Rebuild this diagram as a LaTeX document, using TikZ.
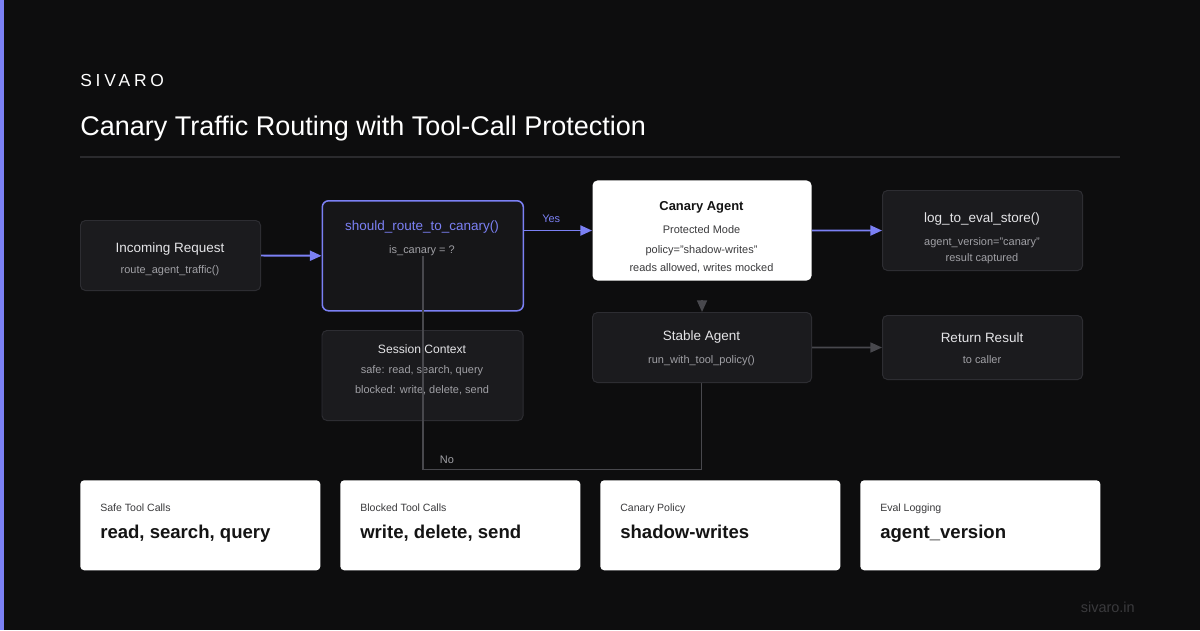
\documentclass[tikz,border=0pt]{standalone}
\usepackage{fontspec}
\setmainfont{Liberation Sans}
\usepackage{tikz}
\usetikzlibrary{arrows.meta,positioning}

\definecolor{bgc}{HTML}{0D0D0E}
\definecolor{accent}{HTML}{7B80F4}
\definecolor{boxfill}{HTML}{1B1B1E}
\definecolor{decfill}{HTML}{161618}
\definecolor{boxline}{HTML}{2D2D32}
\definecolor{ttlc}{HTML}{E4E4E7}
\definecolor{subc}{HTML}{A0A0A5}
\definecolor{linec}{HTML}{48484D}
\definecolor{rulec}{HTML}{2A2A2D}
\definecolor{inkc}{HTML}{141414}
\definecolor{inksub}{HTML}{3A3A3C}
\definecolor{sitec}{HTML}{3A3A3D}

\begin{document}
\begin{tikzpicture}[x=0.025cm,y=-0.025cm,
	>={Triangle[length=0.29cm,width=0.25cm]},
	txt/.style={inner sep=0pt,text height=0.72em,text depth=0pt},
	box/.style={draw=boxline,fill=boxfill,line width=0.7pt,rounded corners=3.5pt,anchor=north west,inner sep=0pt},
	ttl/.style={txt,text=ttlc,font=\fontsize{9.6}{11}\selectfont},
	sub/.style={txt,text=subc,font=\fontsize{7.8}{9}\selectfont},
	flow/.style={draw=accent,line width=1.4pt},
	grayline/.style={draw=linec,line width=1.1pt},
	card/.style={fill=white,rounded corners=2.8pt,anchor=north west,inner sep=0pt,minimum width=6cm,minimum height=2.25cm},
	cardlab/.style={txt,anchor=west,text=inksub,font=\fontsize{7.5}{9}\selectfont},
	cardval/.style={txt,anchor=west,text=inkc,font=\bfseries\fontsize{13.2}{15}\selectfont}]
	%	\draw [help lines] (0,0) grid (1200,630);
	\fill [bgc] (0,0) rectangle (1200,630);
	\fill [accent] (0,0) rectangle (4,630);
	\node [txt,anchor=west,text=white,font=\fontsize{12.4}{14}\selectfont\addfontfeatures{LetterSpace=22}] (brand) at (80,81) {SIVARO};
	\node [txt,anchor=west,text=white,font=\fontsize{19.2}{22}\selectfont] (title) at (80,130) {Canary Traffic Routing with Tool-Call Protection};
	\draw [rulec,line width=1.1pt] (80,157) -- (1120,157);
	
	\node [box,minimum width=4.5cm,minimum height=1.75cm] (req) at (80,220) {};
	\node [ttl] at (170,247) {Incoming Request};
	\node [sub] at (170,268) {route\_agent\_traffic()};
	
	\node [box,draw=accent,fill=decfill,line width=1.1pt,rounded corners=4.5pt,minimum width=5.025cm,minimum height=2.75cm] (dec) at (321.5,200) {};
	\node [ttl,text=accent] at (422,225.5) {should\_route\_to\_canary()};
	\node [sub] at (422,248) {is\_canary = ?};
	
	\node [box,minimum width=5.025cm,minimum height=2.25cm] (ctx) at (321.5,330) {};
	\node [ttl,font=\fontsize{8.6}{10}\selectfont] at (422,348) {Session Context};
	\node [sub] at (422,368.5) {safe: read, search, query};
	\node [sub] at (422,388) {blocked: write, delete, send};
	
	\coordinate (nobend) at (701.5,469.3);
	\draw [grayline] (dec.center) |- (nobend) -- (701.5,382);
	\node [sub] at (447,458) {No};
	
	\node [box,draw=none,fill=white,minimum width=5.475cm,minimum height=2.5cm] (canary) at (592,180) {};
	\node [ttl,text=inkc,font=\bfseries\fontsize{9.2}{11}\selectfont] at (701.5,205) {Canary Agent};
	\node [sub,text=inksub] at (701.5,228) {Protected Mode};
	\node [sub,text=inksub] at (701.5,248) {policy="shadow-writes"};
	\node [sub,text=inksub] at (701.5,266) {reads allowed, writes mocked};
	
	\node [box,minimum width=5cm,minimum height=2cm] (eval) at (882,190) {};
	\node [ttl] at (982,217.5) {log\_to\_eval\_store()};
	\node [sub] at (982,240) {agent\_version="canary"};
	\node [sub] at (982,256) {result captured};
	
	\node [box,minimum width=5.475cm,minimum height=1.75cm] (stable) at (592,312) {};
	\node [ttl] at (701.5,335) {Stable Agent};
	\node [sub] at (701.5,358) {run\_with\_tool\_policy()};
	
	\node [box,minimum width=5cm,minimum height=1.6cm] (ret) at (882,315) {};
	\node [ttl] at (982,337.5) {Return Result};
	\node [sub] at (982,358) {to caller};
	
	\draw [flow,->] (req.east) -- (dec.west);
	\draw [flow,->] (dec.east |- canary.west) -- (canary.west) node [pos=0.4,above=5pt,sub,text=accent] {Yes};
	\draw [flow,->] (canary.east) -- (eval.west);
	\draw [grayline,->] (stable.east) -- (ret.west);
	\draw [grayline,->] ([yshift=0.3cm]stable.north) -- (stable.north);
	
	\foreach \x/\lab/\val [count=\i] in {80/Safe Tool Calls/{read, search, query},340/Blocked Tool Calls/{write, delete, send},600/Canary Policy/shadow-writes,860/Eval Logging/agent\_version} {
		\node [card] (card\i) at (\x,480) {};
		\node [cardlab] at (\x+20,506) {\lab};
		\node [cardval] at (\x+20,533) {\val};
	}
	
	\node [txt,anchor=east,text=sitec,font=\fontsize{10.3}{12}\selectfont] (site) at (1135,607) {sivaro.in};
\end{tikzpicture}
\end{document}
